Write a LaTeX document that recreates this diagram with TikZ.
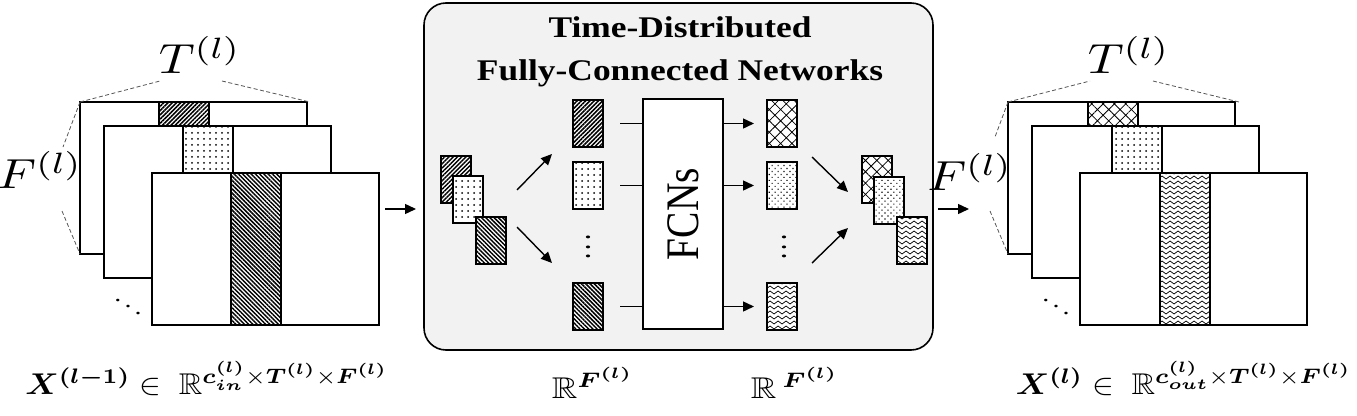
\documentclass[tikz,border=0pt]{standalone}
\usepackage{amsmath,amssymb,bm}
\usepackage[no-math]{fontspec}
\setmainfont{Liberation Serif}
\usepackage{graphicx}
\usetikzlibrary{patterns,patterns.meta,arrows.meta}
\definecolor{panelgray}{HTML}{F2F2F2}
\definecolor{dashgray}{HTML}{555555}
\newcommand{\hstretch}[1]{\scalebox{1.18}[1]{#1}}
\newcommand{\vstretch}[1]{\scalebox{1}[1.18]{#1}}
\newcommand{\bigdim}[1]{\scalebox{4.96}[4.2]{#1}}
\newcommand{\bigmath}[1]{\scalebox{3.27}[3.0]{#1}}
\newcommand{\midmath}[1]{\scalebox{3.54}[3.0]{#1}}
\tikzdeclarepattern{
  name=Wavy,
  type=uncolored,
  bounding box={(-1pt,-1pt) and (9pt,6pt)},
  tile size={(8pt,5pt)},
  code={
    \draw[line width=0.7pt] (0pt,2.5pt) sin (2pt,4pt) cos (4pt,2.5pt) sin (6pt,1pt) cos (8pt,2.5pt);
  }
}
\begin{document}
\begin{tikzpicture}[x=1pt,y=-1pt,
  sheet/.style={draw, line width=1.2pt, fill=white, inner sep=0pt, outer sep=0pt,
    anchor=north west, minimum width=227pt, minimum height=152pt},
  stripe/.style={draw, line width=1.2pt, inner sep=0pt, outer sep=0pt,
    anchor=north west, minimum width=50pt, minimum height=152pt, preaction={fill=white}},
  vecbox/.style={draw, line width=1.2pt, inner sep=0pt, outer sep=0pt,
    anchor=north west, minimum width=30pt, minimum height=47pt, preaction={fill=white}},
  pNE/.style={pattern={Lines[angle=45,distance=3pt,line width=1.5pt]}},
  pNW/.style={pattern={Lines[angle=-45,distance=3pt,line width=1.5pt]}},
  pDots/.style={pattern={Dots[distance=6pt,radius=1pt]}},
  pDense/.style={pattern={Dots[distance=4.2pt,angle=45,radius=0.8pt]}},
  pCross/.style={pattern={Hatch[angle=45,distance=8pt,line width=0.8pt]}},
  pWave/.style={pattern=Wavy},
  dashline/.style={draw=dashgray, line width=0.8pt, dash pattern=on 4pt off 2.5pt},
  arr/.style={-{Triangle[length=11pt,width=10pt]}, line width=1.4pt},
  plain/.style={line width=1.4pt},
  dimlabel/.style={inner sep=0pt, font=\fontsize{10}{12}\selectfont},
  mathlabel/.style={inner sep=0pt, anchor=base, font=\fontsize{10}{12}\selectfont},
  dotsym/.style={inner sep=0pt, font=\fontsize{10}{12}\selectfont}
]
\useasboundingbox (0,0) rectangle (1357,415);

% ---------- left stack ----------
\node[sheet] (L1) at (80,102) {};
\node[stripe, pNE] (L1s) at (159,102) {};
\node[sheet] (L2) at (104,126) {};
\node[stripe, pDots] (L2s) at (183,126) {};
\node[sheet] (L3) at (152,173) {};
\node[stripe, pNW] (L3s) at (231,173) {};

\node[dimlabel] (TL) at (200,55) {\bigdim{$T^{(l)}$}};
\node[dimlabel] (FL) at (40,170) {\bigdim{$F^{(l)}$}};
\coordinate (tL1) at (160,81);
\coordinate (tL2) at (222,81);
\coordinate (fL1) at (63,147);
\coordinate (fL2) at (62,211);
\draw[dashline] (L1.north west) -- (tL1);
\draw[dashline] (tL2) -- ([xshift=3pt]L1.north east);
\draw[dashline] (L1.north west) -- (fL1);
\draw[dashline] (fL2) -- (L1.south west);
\node[dotsym] (ddL) at (128,300) {\scalebox{2.8}[2.2]{$\ddots$}};

\coordinate (inA) at (385,209);
\coordinate (inB) at (416,209);
\draw[arr] (inA) -- (inB);

% ---------- panel ----------
\node[draw, line width=1.6pt, fill=panelgray, rounded corners=22pt, inner sep=0pt,
  outer sep=0pt, anchor=north west, minimum width=509pt, minimum height=347pt] (P) at (424,3) {};
\node[anchor=base, inner sep=0pt, font=\fontsize{30}{30}\selectfont\bfseries] (title1) at (680,37) {\hstretch{Time-Distributed}};
\node[anchor=base, inner sep=0pt, font=\fontsize{30}{30}\selectfont\bfseries] (title2) at (680,80) {\hstretch{Fully-Connected Networks}};

% input vectors
\node[vecbox, pNE] (p1) at (441,156) {};
\node[vecbox, pDots] (p2) at (453,176) {};
\node[vecbox, pNW] (p3) at (476,217) {};
\coordinate (s1a) at (517,190);
\coordinate (s1b) at (552,154);
\coordinate (s2a) at (517,227);
\coordinate (s2b) at (552,263);
\draw[arr] (s1a) -- (s1b);
\draw[arr] (s2a) -- (s2b);

% column 1
\node[vecbox, pNE] (c1a) at (573,100) {};
\node[vecbox, pDots] (c1b) at (573,162) {};
\node[vecbox, pNW] (c1d) at (573,283) {};
\node[dotsym] (vd1) at (588,240) {\scalebox{3.6}[2.4]{$\vdots$}};

% FCN box
\node[draw, line width=1.6pt, fill=white, inner sep=0pt, outer sep=0pt, anchor=north west,
  minimum width=80pt, minimum height=230pt] (F) at (643,99) {};
\node[rotate=90, inner sep=0pt, font=\fontsize{39.5}{40}\selectfont] (Ftxt) at (F.center) {\vstretch{FCNs}};

\draw[plain] ([xshift=17pt]c1a.east) -- (c1a.east -| F.west);
\draw[plain] ([xshift=17pt]c1b.east) -- (c1b.east -| F.west);
\draw[plain] ([xshift=17pt]c1d.east) -- (c1d.east -| F.west);

% column 2
\node[vecbox, pCross] (c2a) at (767,100) {};
\node[vecbox, pDense] (c2b) at (767,162) {};
\node[vecbox, pWave] (c2d) at (767,283) {};
\node[dotsym] (vd2) at (784,240) {\scalebox{3.6}[2.4]{$\vdots$}};

\draw[arr] (c2a.west -| F.east) -- ([xshift=-13pt]c2a.west);
\draw[arr] (c2b.west -| F.east) -- ([xshift=-13pt]c2b.west);
\draw[arr] (c2d.west -| F.east) -- ([xshift=-13pt]c2d.west);

\coordinate (m1a) at (812,157);
\coordinate (m1b) at (848,192);
\coordinate (m2a) at (812,263);
\coordinate (m2b) at (848,228);
\draw[arr] (m1a) -- (m1b);
\draw[arr] (m2a) -- (m2b);

% output vectors
\node[vecbox, pCross] (q1) at (862,156) {};
\node[vecbox, pDense] (q2) at (874,177) {};
\node[vecbox, pWave] (q3) at (897,217) {};

% ---------- right stack ----------
\coordinate (outA) at (938,209);
\coordinate (outB) at (969,209);
\draw[arr] (outA) -- (outB);

\node[sheet] (R1) at (1008,102) {};
\node[stripe, pCross] (R1s) at (1088,102) {};
\node[sheet] (R2) at (1032,126) {};
\node[stripe, pDots] (R2s) at (1112,126) {};
\node[sheet] (R3) at (1080,173) {};
\node[stripe, pWave] (R3s) at (1160,173) {};

\node[dimlabel] (TR) at (1129,55) {\bigdim{$T^{(l)}$}};
\node[dimlabel] (FR) at (970,172) {\bigdim{$F^{(l)}$}};
\coordinate (tR1) at (1090,81);
\coordinate (tR2) at (1153,81);
\coordinate (fR1) at (995,137);
\coordinate (fR2) at (990,211);
\draw[dashline] (R1.north west) -- (tR1);
\draw[dashline] (tR2) -- ([xshift=4pt]R1.north east);
\draw[dashline] (R1.north west) -- (fR1);
\draw[dashline] (fR2) -- (R1.south west);
\node[dotsym] (ddR) at (1056,300) {\scalebox{2.8}[2.2]{$\ddots$}};

% ---------- bottom labels ----------
\node[mathlabel] (lx) at (207,394) {\bigmath{$\bm{X^{(l-1)}}\in\ \mathbb{R}^{\bm{c_{in}^{(l)}}\times\bm{T^{(l)}}\times\bm{F^{(l)}}}$}};
\node[mathlabel] (lm1) at (593,398) {\midmath{$\mathbb{R}^{\bm{F^{(l)}}}$}};
\node[mathlabel] (lm2) at (795,398) {\midmath{$\mathbb{R}\,{}^{\bm{F^{(l)}}}$}};
\node[mathlabel] (ly) at (1184,394) {\bigmath{$\bm{X^{(l)}}\in\ \mathbb{R}^{\bm{c_{out}^{(l)}}\times\bm{T^{(l)}}\times\bm{F^{(l)}}}$}};
\end{tikzpicture}
\end{document}
